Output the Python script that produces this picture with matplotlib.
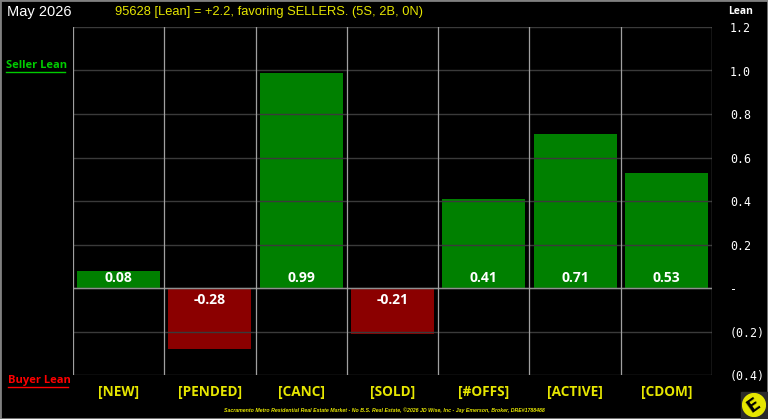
#!/usr/bin/env python

# Lean chart: seller vs buyer lean per market metric.
import matplotlib.pyplot as plt
from matplotlib.patches import Circle, Rectangle

categories = ["[NEW]", "[PENDED]", "[CANC]", "[SOLD]", "[#OFFS]", "[ACTIVE]", "[CDOM]"]
lean = [0.08, -0.28, 0.99, -0.21, 0.41, 0.71, 0.53]
ytick_vals = [-0.4, -0.2, 0.0, 0.2, 0.4, 0.6, 0.8, 1.0, 1.2]
ytick_labels = ["(0.4)", "(0.2)", "-", "0.2", "0.4", "0.6", "0.8", "1.0", "1.2"]
title = "95628 [Lean] = +2.2, favoring SELLERS. (5S, 2B, 0N)"
month = "May 2026"
footer = ("Sacramento Metro Residential Real Estate Market - No B.S. Real Estate, "
          "\u00a92026 JD Wise, Inc - Jay Emerson, Broker, DRE#1788488")

YEL = "#E6E600"
fig = plt.figure(figsize=(7.68, 4.19), dpi=100, facecolor="black")
ax = fig.add_axes([73 / 768, 44 / 419, 639 / 768, 348 / 419], facecolor="black")

x = range(len(categories))
colors = ["#008000" if v >= 0 else "#8B0000" for v in lean]
ax.bar(x, lean, width=0.91, color=colors, zorder=2)

for i, v in enumerate(lean):
    if v >= 0:
        ax.text(i, 0.012, f"{v:.2f}", ha="center", va="bottom", color="white",
                fontsize=10, fontweight="bold", family="Open Sans", zorder=4)
    else:
        ax.text(i, -0.025, f"{v:.2f}", ha="center", va="top", color="white",
                fontsize=10, fontweight="bold", family="Open Sans", zorder=4)

ax.set_xlim(-0.5, len(categories) - 0.5)
ax.set_ylim(-0.4, 1.2)

# grid: dark horizontals, light verticals at category boundaries
for y in ytick_vals:
    ax.axhline(y, color="#3a3a3a", linewidth=1, zorder=3)
ax.axhline(0, color="#909090", linewidth=1, zorder=3)
for b in range(len(categories) + 1):
    ax.axvline(b - 0.5, color="#a0a0a0", linewidth=0.9, zorder=3)

ax.set_yticks(ytick_vals)
ax.set_yticklabels(ytick_labels, family="DejaVu Sans Mono", fontsize=8.4, color="white")
ax.yaxis.tick_right()
ax.tick_params(axis="y", length=0, pad=13)
ax.set_xticks(list(x))
ax.set_xticklabels(categories, color=YEL, fontsize=9.8, fontweight="bold", family="Open Sans")
ax.tick_params(axis="x", length=0, pad=7)
for s in ax.spines.values():
    s.set_visible(False)

fig.text(7 / 768, 1 - 12 / 419, month, color="white", fontsize=10.5,
         family="Liberation Sans", va="center", ha="left")
fig.text(115 / 768, 1 - 12 / 419, title, color=YEL, fontsize=9.3,
         family="Liberation Sans", va="center", ha="left")
fig.text(741 / 768, 1 - 11 / 419, "Lean", color="white", fontsize=7.5,
         fontweight="bold", family="Open Sans", va="center", ha="center")
fig.text(6 / 768, 1 - 66 / 419, "Seller Lean", color="#00CC00", fontsize=8,
         fontweight="bold", family="Open Sans", va="center", ha="left")
fig.text(8 / 768, 1 - 380 / 419, "Buyer Lean", color="#FF0000", fontsize=8,
         fontweight="bold", family="Open Sans", va="center", ha="left")
# underlines
fig.add_artist(plt.Line2D([6 / 768, 65 / 768], [1 - 72.5 / 419] * 2, color="#00CC00", linewidth=1))
fig.add_artist(plt.Line2D([8 / 768, 68 / 768], [1 - 386.5 / 419] * 2, color="#FF0000", linewidth=1))

fig.text(384 / 768, 1 - 410 / 419, footer, color=YEL, fontsize=3.8, style="italic",
         fontweight="bold", family="Liberation Sans", va="center", ha="center")

# logo
fig.add_artist(Rectangle((741 / 768, 0), 27 / 768, 27 / 419, transform=fig.transFigure,
                         color="#2a2a2a", zorder=4))
logo_ax = fig.add_axes([742 / 768, 2 / 419, 24 / 768, 24 / 419])
logo_ax.set_zorder(6)
logo_ax.set_xlim(-1, 1)
logo_ax.set_ylim(-1, 1)
logo_ax.set_aspect("equal")
logo_ax.axis("off")
logo_ax.add_patch(Circle((0, 0), 0.95, color=YEL))
logo_ax.text(0, 0, "E", color="black", fontsize=13, fontweight="bold", rotation=35,
             ha="center", va="center", family="DejaVu Sans")

# outer border
fig.add_artist(Rectangle((0, 0), 1, 1, transform=fig.transFigure, fill=False,
                         edgecolor="#808080", linewidth=2))

fig.savefig("out.png", dpi=100, facecolor="black")
plt.close()
